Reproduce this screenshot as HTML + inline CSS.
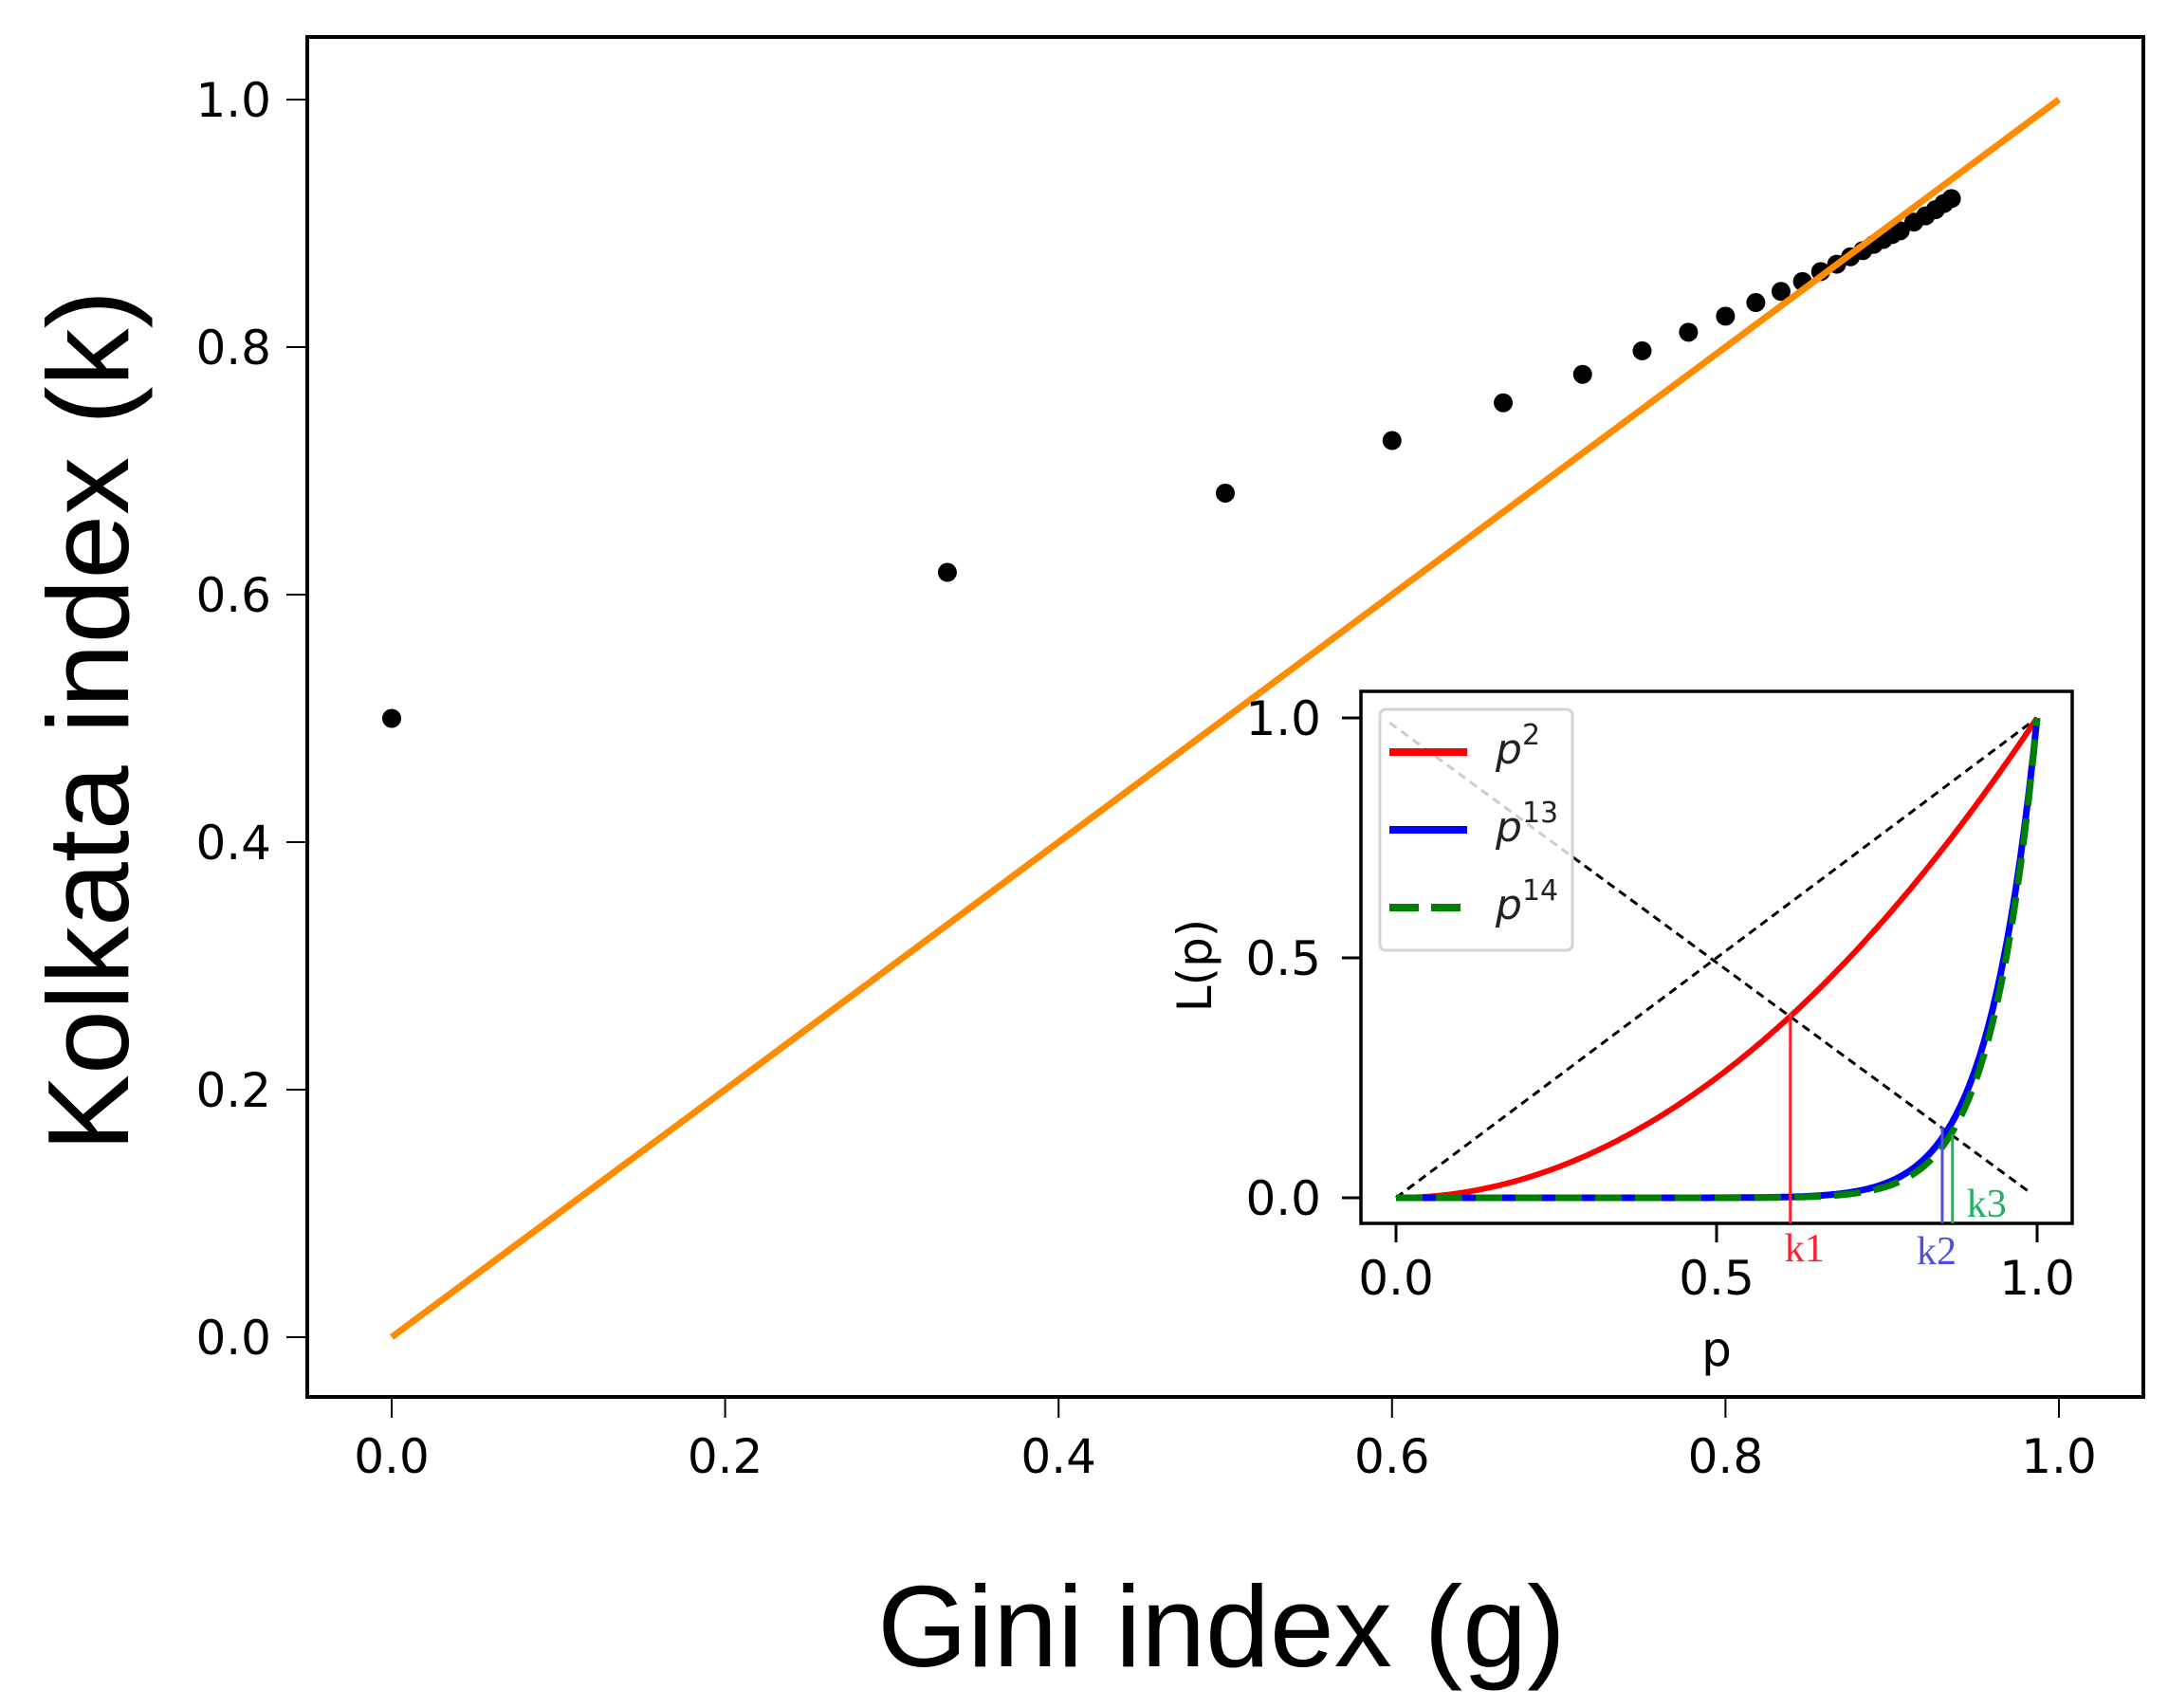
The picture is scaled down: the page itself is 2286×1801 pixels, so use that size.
<!DOCTYPE html>
<html><head><meta charset="utf-8"><style>
html,body{margin:0;padding:0;background:#fff;}
svg{display:block;}
text{font-family:"DejaVu Sans","Liberation Sans",sans-serif;}
</style></head><body>
<svg id="chart" width="2286" height="1801" viewBox="0 0 2286 1801" xmlns="http://www.w3.org/2000/svg">
<g id="main"></g>
<g id="inset"></g>
</svg>
<script>
const giniValues = [0, 0.3333, 0.5, 0.6, 0.6667, 0.7143, 0.75, 0.7778, 0.8, 0.8182, 0.8333, 0.8462, 0.8571, 0.8667, 0.875, 0.8824, 0.8889, 0.8947, 0.9, 0.9048, 0.9130, 0.92, 0.9259, 0.9310, 0.9355];
const kolkataValues = [0.5, 0.618, 0.682, 0.7245, 0.755, 0.778, 0.797, 0.812, 0.825, 0.836, 0.845, 0.853, 0.861, 0.867, 0.873, 0.878, 0.883, 0.887, 0.891, 0.894, 0.901, 0.906, 0.911, 0.916, 0.920];
const mainXTicks = [0, 0.2, 0.4, 0.6, 0.8, 1.0];
const mainXTickLabels = ["0.0","0.2","0.4","0.6","0.8","1.0"];
const mainYTicks = [0, 0.2, 0.4, 0.6, 0.8, 1.0];
const mainYTickLabels = ["0.0","0.2","0.4","0.6","0.8","1.0"];
const insetExponents = [2, 13, 14];
const insetColors = ["#ff0000", "#0000ff", "#008000"];
const insetLegendLabels = ["2", "13", "14"];
const insetKValues = [0.615, 0.852, 0.868];
const insetKLabels = ["k1", "k2", "k3"];
const insetKColors = ["#ff2030", "#5050e0", "#20b060"];
const insetTicks = [0, 0.5, 1.0];
const insetTickLabels = ["0.0","0.5","1.0"];

const NS = "http://www.w3.org/2000/svg";
function mk(parent, tag, attrs, txt){
  const e = document.createElementNS(NS, tag);
  for (const k in attrs) e.setAttribute(k, attrs[k]);
  if (txt !== undefined) e.textContent = txt;
  parent.appendChild(e);
  return e;
}
const X = v => 413 + v * (2171 - 413);
const Y = v => 1410 - v * (1410 - 105);
const main = document.getElementById('main');
let el;
el = mk(main, 'rect', {x:324, y:39, width:1936, height:1434, fill:'none', stroke:'#000', 'stroke-width':4});


mainXTicks.forEach((t, i) => {
  el = mk(main, 'line', {x1:X(t), x2:X(t), y1:1473, y2:1495, stroke:'#000', 'stroke-width':2});
  
  
  el = mk(main, 'text', {x:X(t), y:1553, 'font-size':50, 'text-anchor':'middle'}, mainXTickLabels[i]);
  
  
});
mainYTicks.forEach((t, i) => {
  el = mk(main, 'line', {x1:302, x2:324, y1:Y(t), y2:Y(t), stroke:'#000', 'stroke-width':2});
  
  
  el = mk(main, 'text', {x:286, y:Y(t)+18, 'font-size':50, 'text-anchor':'end'}, mainYTickLabels[i]);
  
  
});
el = mk(main, 'text', {x:1288, y:1757, 'font-size':122, 'text-anchor':'middle', style:'font-family:"Liberation Sans",sans-serif'}, 'Gini index (g)');


el = mk(main, 'text', {x:0, y:0, 'font-size':122, 'text-anchor':'middle', transform:'translate(135,760) rotate(-90)', style:'font-family:"Liberation Sans",sans-serif'}, 'Kolkata index (k)');


giniValues.forEach((g, i) => {
  el = mk(main, 'circle', {cx:X(g), cy:Y(kolkataValues[i]), r:10, fill:'#000'});
  
  
});
el = mk(main, 'line', {x1:X(0), y1:Y(0), x2:X(1), y2:Y(1), stroke:'#ff8c00', 'stroke-width':7});



// inset
const inset = document.getElementById('inset');
const IX = v => 1472 + v * (2148 - 1472);
const IY = v => 1263 - v * (1263 - 757);
el = mk(inset, 'rect', {x:1435, y:729, width:750, height:561, fill:'#fff', stroke:'#000', 'stroke-width':3.5});


insetTicks.forEach((t, i) => {
  el = mk(inset, 'line', {x1:IX(t), x2:IX(t), y1:1290, y2:1310, stroke:'#000', 'stroke-width':3});
  
  
  el = mk(inset, 'text', {x:IX(t), y:1365, 'font-size':50, 'text-anchor':'middle'}, insetTickLabels[i]);
  
  
  el = mk(inset, 'line', {x1:1415, x2:1435, y1:IY(t), y2:IY(t), stroke:'#000', 'stroke-width':3});
  
  
  el = mk(inset, 'text', {x:1393, y:IY(t)+18, 'font-size':50, 'text-anchor':'end'}, insetTickLabels[i]);
  
  
});
el = mk(inset, 'text', {x:1810, y:1440, 'font-size':50, 'text-anchor':'middle'}, 'p');


el = mk(inset, 'text', {x:0, y:0, 'font-size':50, 'text-anchor':'middle', transform:'translate(1277,1018) rotate(-90)'}, 'L(p)');


el = mk(inset, 'line', {x1:IX(0), y1:IY(0), x2:IX(1), y2:IY(1), stroke:'#000', 'stroke-width':3, 'stroke-dasharray':'9,6'});


el = mk(inset, 'line', {x1:IX(-0.01), y1:IY(0.99), x2:IX(0.99), y2:IY(0.01), stroke:'#000', 'stroke-width':3, 'stroke-dasharray':'9,6'});


insetExponents.forEach((n, i) => {
  let d = '';
  for (let s = 0; s <= 300; s++) { const p = s / 300; d += (s ? 'L' : 'M') + IX(p).toFixed(1) + ',' + IY(Math.pow(p, n)).toFixed(1); }
  const attrs = {d:d, fill:'none', stroke:insetColors[i], 'stroke-width':i === 0 ? 6 : 7};
  if (i === 2) attrs['stroke-dasharray'] = '28,14';
  el = mk(inset, 'path', attrs);
  
  
});
insetKValues.forEach((k, i) => {
  el = mk(inset, 'line', {x1:IX(k), x2:IX(k), y1:IY(1 - k), y2:1290, stroke:insetKColors[i], 'stroke-width':3});
  
  
});
[[IX(insetKValues[0])+15, 1330], [IX(insetKValues[1])-6, 1333], [IX(insetKValues[2])+36, 1283]].forEach((pos, i) => {
  el = mk(inset, 'text', {x:pos[0], y:pos[1], 'font-size':42, 'text-anchor':'middle', fill:insetKColors[i], style:'font-family:"Liberation Serif",serif'}, insetKLabels[i]);
  
  
});
el = mk(inset, 'rect', {x:1455, y:748, width:203, height:254, rx:6, fill:'#fff', 'fill-opacity':0.8, stroke:'#d4d4d4', 'stroke-width':3});


insetExponents.forEach((n, i) => {
  const y = 793 + i * 82;
  const attrs = {x1:1465, x2:1547, y1:y, y2:y, stroke:insetColors[i], 'stroke-width':8};
  if (i === 2) attrs['stroke-dasharray'] = '31,13';
  el = mk(inset, 'line', attrs);
  
  
  const t = mk(inset, 'text', {x:1577, y:y+12, 'font-size':44, 'font-style':'italic', fill:'#222'}, 'p');
  mk(t, 'tspan', {dy:-20, 'font-size':30, 'font-style':'normal'}, insetLegendLabels[i]);
  
  
});
</script>
</body></html>
